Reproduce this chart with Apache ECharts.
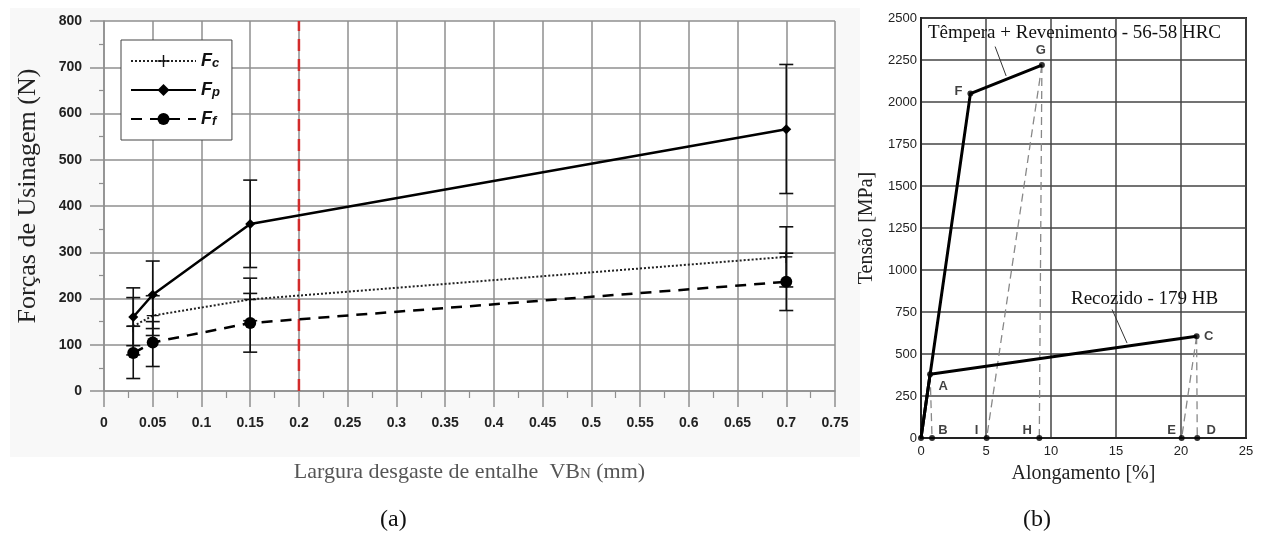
<!DOCTYPE html>
<html>
<head>
<meta charset="utf-8">
<script src="https://cdn.jsdelivr.net/npm/echarts@6/dist/echarts.min.js"></script>
<style>
  html, body { margin: 0; padding: 0; background: #fff; }
  #charts { width: 1261px; height: 551px; }
</style>
</head>
<body>
<div id="charts"></div>
<script>
// (a) machining forces vs notch wear width
const wear = [0.03, 0.05, 0.15, 0.7];
const fcMean = [140, 163, 198, 290];
const fcLow = [78, 120, 152, 225];
const fcHigh = [202, 206, 244, 355];
const fpMean = [160, 208, 361, 566];
const fpLow = [98, 135, 267, 427];
const fpHigh = [223, 281, 456, 706];
const ffMean = [82, 105, 147, 236];
const ffLow = [27, 53, 84, 174];
const ffHigh = [140, 150, 211, 298];
const wearLimit = 0.2;

// (b) stress-strain curves
const temperedCurve = [[0, 0], [3.8, 2050], [9.3, 2220]];
const annealedCurve = [[0, 0], [0.7, 380], [21.2, 605]];
const pointNames = ["O", "A", "B", "C", "D", "E", "F", "G", "H", "I"];
const pointX = [0, 0.7, 0.85, 21.2, 21.25, 20.05, 3.8, 9.3, 9.1, 5.05];
const pointY = [0, 380, 0, 605, 0, 0, 2050, 2220, 0, 0];
// unloading paths [from, to]
const unloadPaths = [["A", "B"], ["G", "H"], ["G", "I"], ["C", "D"], ["C", "E"]];
// leader lines for the two curve notes
const leaderTempered = [[5.7, 2330], [6.55, 2155]];
const leaderAnnealed = [[14.7, 765], [15.85, 565]];

// label offsets (style only)
const labelOffset = {
  O: null, A: [13, 12], B: [11, -8], C: [12, 0], D: [14, -8],
  E: [-10, -8], F: [-12, -2], G: [-1, -15], H: [-12, -8], I: [-10, -8]
};

const pt = (name) => {
  const i = pointNames.indexOf(name);
  return [pointX[i], pointY[i]];
};

const plusPath = "path://M4.4,0H5.6V4.4H10V5.6H5.6V10H4.4V5.6H0V4.4H4.4Z";

const errorBar = (color) => (params, api) => {
  const x = api.value(0);
  const lo = api.coord([x, api.value(1)]);
  const hi = api.coord([x, api.value(2)]);
  const w = 7;
  const style = { stroke: color, lineWidth: 1.6 };
  return {
    type: "group",
    children: [
      { type: "line", shape: { x1: lo[0], y1: lo[1], x2: hi[0], y2: hi[1] }, style },
      { type: "line", shape: { x1: lo[0] - w, y1: lo[1], x2: lo[0] + w, y2: lo[1] }, style },
      { type: "line", shape: { x1: hi[0] - w, y1: hi[1], x2: hi[0] + w, y2: hi[1] }, style },
    ],
  };
};

const pairs = (xs, ys) => xs.map((x, i) => [x, ys[i]]);
const bars = (lo, hi) => wear.map((x, i) => [x, lo[i], hi[i]]);

const serif = "Liberation Serif";
const sans = "Liberation Sans";
const gridGray = "#8f8f8f";

const option = {
  animation: false,
  graphic: [
    {
      type: "rect", z: -10, silent: true,
      shape: { x: 10, y: 8, width: 850, height: 449 },
      style: { fill: "#f8f8f8" },
    },
    {
      type: "text", left: 380, top: 508,
      style: { text: "(a)", font: "24px " + serif, fill: "#111" },
    },
    {
      type: "text", left: 1023, top: 508,
      style: { text: "(b)", font: "24px " + serif, fill: "#111" },
    },
    {
      type: "text", left: 928, top: 24, z: 10,
      style: { text: "Têmpera + Revenimento - 56-58 HRC", font: "19px " + serif, fill: "#111" },
    },
    {
      type: "text", left: 1071, top: 290, z: 10,
      style: { text: "Recozido - 179 HB", font: "19px " + serif, fill: "#111" },
    },
  ],
  grid: [
    { left: 104, right: 426, top: 21, bottom: 160, show: true, backgroundColor: "#fff", borderWidth: 0 },
    { left: 921, right: 15, top: 18, bottom: 113, show: true, backgroundColor: "#fff", borderColor: "#222", borderWidth: 2 },
  ],
  legend: {
    data: ["Fc", "Fp", "Ff"],
    orient: "vertical",
    left: 121,
    top: 40,
    padding: [12, 12, 12, 9],
    itemWidth: 65,
    itemHeight: 15,
    itemGap: 11,
    backgroundColor: "#fff",
    borderColor: "#444",
    borderWidth: 1,
    borderRadius: 0,
    formatter: (name) => "{f|F}{s|" + name.slice(1) + "}",
    textStyle: {
      rich: {
        f: { fontFamily: sans, fontSize: 18, fontStyle: "italic", fontWeight: "bold", color: "#111", lineHeight: 18, verticalAlign: "bottom" },
        s: { fontFamily: sans, fontSize: 13, fontStyle: "italic", fontWeight: "bold", color: "#111", lineHeight: 12, verticalAlign: "bottom" },
      },
    },
  },
  xAxis: [
    {
      gridIndex: 0, type: "value", min: 0, max: 0.75, interval: 0.05,
      name: "{t|Largura desgaste de entalhe  VB}{n|N}{t| (mm)}",
      nameLocation: "middle", nameGap: 70,
      nameTextStyle: {
        rich: {
          t: { fontFamily: serif, fontSize: 22, color: "#555" },
          n: { fontFamily: serif, fontSize: 15, color: "#555", padding: [5, 0, 0, 0] },
        },
      },
      axisLine: { lineStyle: { color: gridGray, width: 1.5 } },
      axisTick: { show: true, length: 16, lineStyle: { color: gridGray, width: 1.5 } },
      minorTick: { show: true, splitNumber: 2, length: 7, lineStyle: { color: gridGray, width: 1.2 } },
      axisLabel: { margin: 25, fontFamily: sans, fontSize: 14, fontWeight: "bold", color: "#222" },
      splitLine: { show: true, lineStyle: { color: gridGray, width: 1.5 } },
    },
    {
      gridIndex: 1, type: "value", min: 0, max: 25, interval: 5,
      name: "Alongamento [%]", nameLocation: "middle", nameGap: 26,
      nameTextStyle: { fontFamily: serif, fontSize: 20, color: "#222" },
      axisLine: { lineStyle: { color: "#222", width: 2 } },
      axisTick: { show: false },
      axisLabel: { margin: 7, fontFamily: sans, fontSize: 13, color: "#222" },
      splitLine: { show: true, lineStyle: { color: "#444", width: 1.5 } },
    },
  ],
  yAxis: [
    {
      gridIndex: 0, type: "value", min: 0, max: 800, interval: 100,
      name: "Forças de Usinagem (N)", nameLocation: "middle", nameGap: 63,
      nameTextStyle: { fontFamily: serif, fontSize: 26, color: "#222", padding: [0, 0, 0, 20] },
      axisLine: { show: true, lineStyle: { color: gridGray, width: 1.5 } },
      axisTick: { show: true, length: 14, lineStyle: { color: gridGray, width: 1.5 } },
      minorTick: { show: true, splitNumber: 2, length: 5, lineStyle: { color: gridGray, width: 1.2 } },
      axisLabel: { margin: 22, fontFamily: sans, fontSize: 14, fontWeight: "bold", color: "#222" },
      splitLine: { show: true, lineStyle: { color: gridGray, width: 1.5 } },
    },
    {
      gridIndex: 1, type: "value", min: 0, max: 2500, interval: 250,
      name: "Tensão [MPa]", nameLocation: "middle", nameGap: 44,
      nameTextStyle: { fontFamily: serif, fontSize: 20, color: "#222" },
      axisLine: { show: true, lineStyle: { color: "#222", width: 2 } },
      axisTick: { show: false },
      axisLabel: { margin: 4, fontFamily: sans, fontSize: 13, color: "#222", formatter: (v) => String(v) },
      splitLine: { show: true, lineStyle: { color: "#444", width: 1.5 } },
    },
  ],
  series: [
    // (a)
    {
      name: "limit", type: "line", xAxisIndex: 0, yAxisIndex: 0,
      data: [[wearLimit, 0], [wearLimit, 800]], symbol: "none", z: 1,
      lineStyle: { color: "#d22b2b", width: 2.5, type: [12, 8] },
    },
    { type: "custom", xAxisIndex: 0, yAxisIndex: 0, renderItem: errorBar("#111"), data: bars(fpLow, fpHigh), z: 2 },
    { type: "custom", xAxisIndex: 0, yAxisIndex: 0, renderItem: errorBar("#111"), data: bars(fcLow, fcHigh), z: 2 },
    { type: "custom", xAxisIndex: 0, yAxisIndex: 0, renderItem: errorBar("#111"), data: bars(ffLow, ffHigh), z: 2 },
    {
      name: "Fc", type: "line", xAxisIndex: 0, yAxisIndex: 0, data: pairs(wear, fcMean),
      symbol: plusPath, symbolSize: 12, z: 3,
      itemStyle: { color: "#111" },
      lineStyle: { color: "#222", width: 2, type: [2, 2] },
    },
    {
      name: "Fp", type: "line", xAxisIndex: 0, yAxisIndex: 0, data: pairs(wear, fpMean),
      symbol: "diamond", symbolSize: 10, z: 3,
      itemStyle: { color: "#000" },
      lineStyle: { color: "#000", width: 2.5 },
    },
    {
      name: "Ff", type: "line", xAxisIndex: 0, yAxisIndex: 0, data: pairs(wear, ffMean),
      symbol: "circle", symbolSize: 12, z: 3,
      itemStyle: { color: "#000" },
      lineStyle: { color: "#000", width: 2.5, type: [11, 8] },
    },
    // (b)
    {
      type: "lines", coordinateSystem: "cartesian2d", xAxisIndex: 1, yAxisIndex: 1, z: 2,
      data: unloadPaths.map(([a, b]) => ({ coords: [pt(a), pt(b)] })),
      lineStyle: { color: "#888", width: 1.3, type: [8, 5], opacity: 1 },
    },
    {
      type: "lines", coordinateSystem: "cartesian2d", xAxisIndex: 1, yAxisIndex: 1, z: 2,
      data: [{ coords: leaderTempered }, { coords: leaderAnnealed }],
      lineStyle: { color: "#333", width: 1, opacity: 1 },
    },
    {
      type: "line", xAxisIndex: 1, yAxisIndex: 1, data: temperedCurve, symbol: "none", z: 3,
      lineStyle: { color: "#000", width: 3 },
    },
    {
      type: "line", xAxisIndex: 1, yAxisIndex: 1, data: annealedCurve, symbol: "none", z: 3,
      lineStyle: { color: "#000", width: 3 },
    },
    {
      type: "scatter", xAxisIndex: 1, yAxisIndex: 1, z: 4, symbolSize: 6,
      itemStyle: { color: "#000" },
      data: pointNames.map((n, i) => ({
        value: [pointX[i], pointY[i]],
        name: n,
        label: labelOffset[n]
          ? { show: true, formatter: n, position: "inside", offset: labelOffset[n] }
          : { show: false },
      })),
      label: { fontFamily: sans, fontSize: 13, fontWeight: "bold", color: "#111" },
    },
  ],
};

const element = document.getElementById("charts");
const charts = echarts.init(element);
charts.setOption(option);
</script>
</body>
</html>
